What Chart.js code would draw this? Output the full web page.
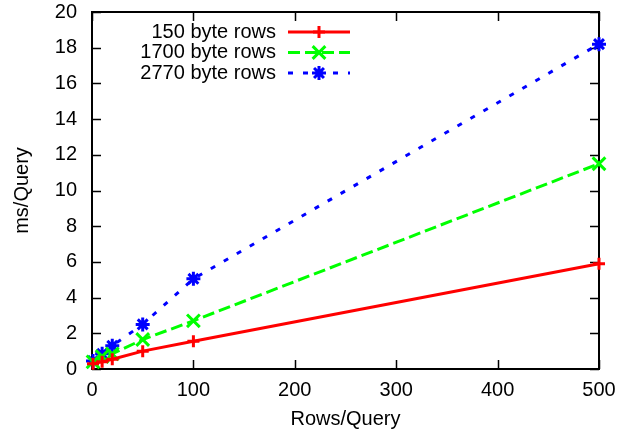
<!DOCTYPE html>
<html><head><meta charset="utf-8">
<script src="https://cdn.jsdelivr.net/npm/chart.js@4/dist/chart.umd.min.js"></script>
<style>html,body{margin:0;padding:0;background:#fff}#wrap{width:632px;height:436px}</style>
</head><body><div id="wrap"><canvas id="c" width="632" height="436"></canvas></div>
<script>
const rowsPerQuery = [1, 10, 20, 50, 100, 500];
const seriesNames = ['150 byte rows', '1700 byte rows', '2770 byte rows'];
const ms150 = [0.3, 0.4, 0.55, 1.0, 1.55, 5.9];
const ms1700 = [0.4, 0.7, 0.85, 1.65, 2.7, 11.5];
const ms2770 = [0.45, 0.85, 1.3, 2.5, 5.05, 18.2];
const xTickValues = [0, 100, 200, 300, 400, 500];
const yTickValues = [0, 2, 4, 6, 8, 10, 12, 14, 16, 18, 20];
const xTitle = 'Rows/Query';
const yTitle = 'ms/Query';

const FONT = '"Liberation Sans", Arial, Helvetica, sans-serif';
const FS = 20;

function pts(ys) { return rowsPerQuery.map((x, i) => ({x: x, y: ys[i]})); }

const styles = [
  {color: '#ff0000', dash: [], point: 'cross', radius: 6},
  {color: '#00ff00', dash: [12, 5], point: 'crossRot', radius: 9},
  {color: '#0000ff', dash: [5, 10], point: 'star', radius: 7}
];
const seriesValues = [ms150, ms1700, ms2770];

const datasets = seriesValues.map((ys, i) => ({
  label: seriesNames[i],
  data: pts(ys),
  showLine: true,
  borderColor: styles[i].color,
  backgroundColor: styles[i].color,
  borderWidth: 3,
  borderDash: styles[i].dash,
  pointStyle: styles[i].point,
  pointRadius: styles[i].radius,
  pointBorderWidth: 3,
  pointBorderColor: styles[i].color,
  pointBackgroundColor: styles[i].color,
  tension: 0,
  clip: false
}));

const framePlugin = {
  id: 'frame',
  beforeDatasetsDraw(chart) {
    const ctx = chart.ctx, a = chart.chartArea;
    const xs = chart.scales.x, ys = chart.scales.y;
    ctx.save();
    ctx.strokeStyle = '#000';
    ctx.lineWidth = 2;
    ctx.setLineDash([]);
    ctx.strokeRect(a.left, a.top, a.right - a.left, a.bottom - a.top);
    ctx.lineWidth = 1.5;
    const L = 9;
    ctx.beginPath();
    xTickValues.forEach(v => {
      const px = Math.round(xs.getPixelForValue(v)) + 0.5;
      ctx.moveTo(px, a.bottom); ctx.lineTo(px, a.bottom - L);
      ctx.moveTo(px, a.top); ctx.lineTo(px, a.top + L);
    });
    yTickValues.forEach(v => {
      const py = Math.round(ys.getPixelForValue(v)) + 0.5;
      ctx.moveTo(a.left, py); ctx.lineTo(a.left + L, py);
      ctx.moveTo(a.right, py); ctx.lineTo(a.right - L, py);
    });
    ctx.stroke();
    ctx.restore();
  }
};

const legendPlugin = {
  id: 'gpLegend',
  afterDatasetsDraw(chart) {
    const ctx = chart.ctx;
    ctx.save();
    ctx.font = FS + 'px ' + FONT;
    ctx.textAlign = 'right';
    ctx.textBaseline = 'middle';
    chart.data.datasets.forEach((ds, i) => {
      const y = 32 + 20.5 * i;
      ctx.fillStyle = '#000';
      ctx.fillText(ds.label, 276, y);
      ctx.strokeStyle = ds.borderColor;
      ctx.lineWidth = ds.borderWidth;
      ctx.setLineDash(ds.borderDash);
      ctx.beginPath();
      ctx.moveTo(288, y); ctx.lineTo(350, y);
      ctx.stroke();
      ctx.setLineDash([]);
      Chart.helpers.drawPoint(ctx, {
        pointStyle: ds.pointStyle, radius: ds.pointRadius, rotation: 0,
        borderWidth: ds.pointBorderWidth
      }, 319, y);
    });
    ctx.restore();
  }
};

new Chart(document.getElementById('c'), {
  type: 'scatter',
  data: {datasets: datasets},
  plugins: [framePlugin, legendPlugin],
  options: {
    responsive: false,
    devicePixelRatio: 1,
    animation: false,
    layout: {padding: {top: 12, right: 33, left: 0, bottom: 0}},
    plugins: {legend: {display: false}, tooltip: {enabled: false}},
    scales: {
      x: {
        type: 'linear', min: 0, max: 500,
        afterBuildTicks: s => { s.ticks = xTickValues.map(v => ({value: v})); },
        afterFit: s => { s.height = 67; s.paddingLeft = 0; s.paddingRight = 0; },
        grid: {display: false, drawTicks: false},
        border: {display: false},
        ticks: {color: '#000', padding: 9, font: {family: FONT, size: FS}, maxRotation: 0},
        title: {display: true, text: xTitle, color: '#000', font: {family: FONT, size: FS}, padding: {top: 0, bottom: 5}}
      },
      y: {
        type: 'linear', min: 0, max: 20,
        afterBuildTicks: s => { s.ticks = yTickValues.map(v => ({value: v})); },
        afterFit: s => { s.width = 92; s.paddingTop = 0; s.paddingBottom = 0; },
        grid: {display: false, drawTicks: false},
        border: {display: false},
        ticks: {color: '#000', padding: 15, font: {family: FONT, size: FS}},
        title: {display: true, text: yTitle, color: '#000', font: {family: FONT, size: FS}, padding: {top: 10, bottom: 0}}
      }
    }
  }
});
</script></body></html>
